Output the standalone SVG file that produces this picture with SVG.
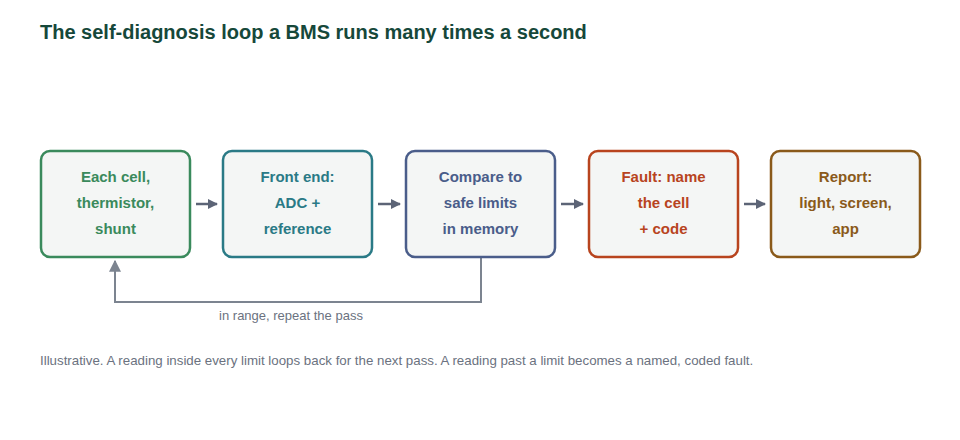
<svg xmlns="http://www.w3.org/2000/svg" width="960" height="440" viewBox="0 0 960 440">
<style>
.bg{fill:#ffffff}
.box{fill:#f4f6f5;stroke-width:2.5}
.lbl{font-family:"Liberation Sans",Arial,sans-serif;font-size:15px;font-weight:bold;text-anchor:middle}
.title{font-family:"Liberation Sans",Arial,sans-serif;font-size:20px;font-weight:bold;fill:#16483a}
.note{font-family:"Liberation Sans",Arial,sans-serif;font-size:13px;fill:#6b7280}
.conn{fill:none;stroke:#5c6476;stroke-width:2.5}
.loop{fill:none;stroke:#7c8490;stroke-width:2}
</style>
<defs>
<marker id="ah" viewBox="0 0 10 10" refX="9" refY="5" markerWidth="4" markerHeight="4" orient="auto" markerUnits="strokeWidth">
<path d="M0,0 L10,5 L0,10 z" fill="#5c6476"/>
</marker>
<marker id="ah2" viewBox="0 0 10 10" refX="9" refY="5" markerWidth="6" markerHeight="6" orient="auto" markerUnits="strokeWidth">
<path d="M0,0 L10,5 L0,10 z" fill="#7c8490"/>
</marker>
</defs>
<rect class="bg" x="0" y="0" width="960" height="440"/>
<text class="title" x="40" y="39">The self-diagnosis loop a BMS runs many times a second</text>

<g id="connectors">
<line class="conn" x1="196" y1="204" x2="217" y2="204" marker-end="url(#ah)"/>
<line class="conn" x1="378" y1="204" x2="400" y2="204" marker-end="url(#ah)"/>
<line class="conn" x1="561" y1="204" x2="583" y2="204" marker-end="url(#ah)"/>
<line class="conn" x1="744" y1="204" x2="765" y2="204" marker-end="url(#ah)"/>
<polyline class="loop" points="481,258 481,302 115,302 115,261" marker-end="url(#ah2)"/>
<text class="note" x="291" y="320" text-anchor="middle">in range, repeat the pass</text>
</g>

<g id="node-cell">
<rect class="box" x="41" y="151" width="149" height="106" rx="9" stroke="#3a8a5c"/>
<text class="lbl" fill="#3a8a5c"><tspan x="115.5" y="182">Each cell,</tspan><tspan x="115.5" y="208">thermistor,</tspan><tspan x="115.5" y="234">shunt</tspan></text>
</g>
<g id="node-frontend">
<rect class="box" x="223" y="151" width="149" height="106" rx="9" stroke="#2a7a86"/>
<text class="lbl" fill="#2a7a86"><tspan x="297.5" y="182">Front end:</tspan><tspan x="297.5" y="208">ADC +</tspan><tspan x="297.5" y="234">reference</tspan></text>
</g>
<g id="node-compare">
<rect class="box" x="406" y="151" width="149" height="106" rx="9" stroke="#4a5d8a"/>
<text class="lbl" fill="#4a5d8a"><tspan x="480.5" y="182">Compare to</tspan><tspan x="480.5" y="208">safe limits</tspan><tspan x="480.5" y="234">in memory</tspan></text>
</g>
<g id="node-fault">
<rect class="box" x="589" y="151" width="149" height="106" rx="9" stroke="#b8441e"/>
<text class="lbl" fill="#b8441e"><tspan x="663.5" y="182">Fault: name</tspan><tspan x="663.5" y="208">the cell</tspan><tspan x="663.5" y="234">+ code</tspan></text>
</g>
<g id="node-report">
<rect class="box" x="771" y="151" width="149" height="106" rx="9" stroke="#8a5a1a"/>
<text class="lbl" fill="#8a5a1a"><tspan x="845.5" y="182">Report:</tspan><tspan x="845.5" y="208">light, screen,</tspan><tspan x="845.5" y="234">app</tspan></text>
</g>

<text class="note" x="40" y="365" style="font-size:13.3px">Illustrative. A reading inside every limit loops back for the next pass. A reading past a limit becomes a named, coded fault.</text>
</svg>
